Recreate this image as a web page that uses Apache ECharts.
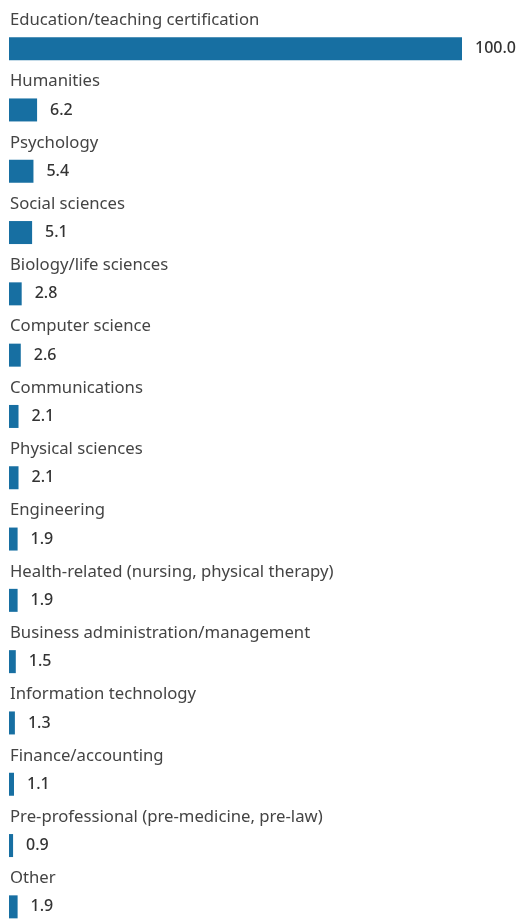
<!DOCTYPE html>
<html><head><meta charset="utf-8">
<script src="https://cdn.jsdelivr.net/npm/echarts@6/dist/echarts.min.js"></script>
<style>html,body{margin:0;padding:0;background:#fff;overflow:hidden}#c{width:520px;height:940px}</style>
</head><body><div id="c"></div>
<script>
const categories = ["Education/teaching certification","Humanities","Psychology","Social sciences","Biology/life sciences","Computer science","Communications","Physical sciences","Engineering","Health-related (nursing, physical therapy)","Business administration/management","Information technology","Finance/accounting","Pre-professional (pre-medicine, pre-law)","Other"];
const values = [100.0,6.2,5.4,5.1,2.8,2.6,2.1,2.1,1.9,1.9,1.5,1.3,1.1,0.9,1.9];
const chart = echarts.init(document.getElementById('c'));
chart.setOption({
  animation:false,
  grid:{left:9, top:18, height:919.5, width:453, containLabel:false},
  xAxis:{type:'value', min:0, max:100, show:false},
  yAxis:{type:'category', data:categories, inverse:true,
    axisLine:{show:false}, axisTick:{show:false},
    axisLabel:{inside:true, align:'left', verticalAlign:'bottom', padding:[0,0,20,0], margin:1,
      fontFamily:'Noto Sans', fontSize:16.7, color:'#444'}},
  series:[{type:'bar', data:values, barWidth:23, itemStyle:{color:'#176fa2'},
    label:{show:true, position:'right', distance:13, fontFamily:'Noto Sans', fontSize:16, fontWeight:500, color:'#333',
      formatter:p=>p.value.toFixed(1)}}]
});
</script></body></html>
